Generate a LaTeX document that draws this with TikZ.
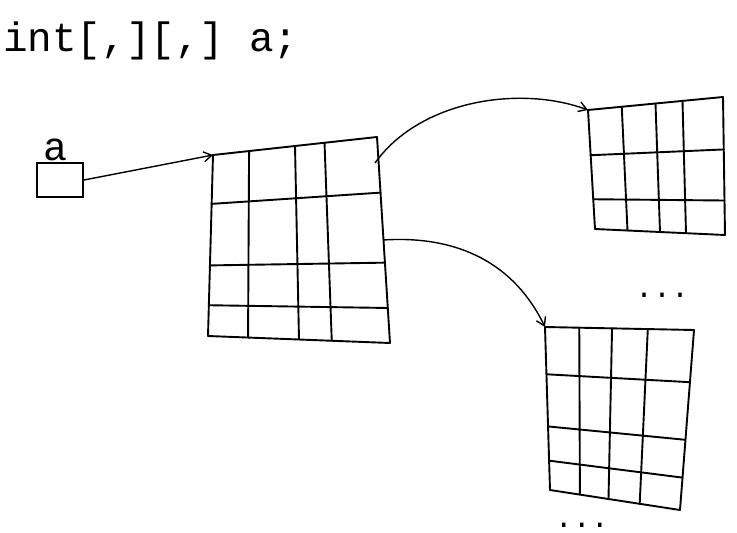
\documentclass[tikz,border=0pt]{standalone}
\usepackage{fontspec}
\setmonofont{Liberation Mono}
\usetikzlibrary{arrows.meta, calc}

\tikzset{
  gridline/.style={line width=1.9pt, line cap=round},
  link/.style={line width=1.4pt, -{Straight Barb[length=8pt,width=10pt]}},
  hand/.style={font=\ttfamily\fontsize{#1}{#1}\selectfont}
}

\begin{document}
\begin{tikzpicture}[x=1pt, y=-1pt]
    \useasboundingbox (0,0) rectangle (737,533);

    % declaration
    \node[hand=41, anchor=base west, inner sep=0pt] (decl) at (3,51) {int[,][,] a;};

    % variable a
    \node[draw, gridline, minimum width=46pt, minimum height=34pt, inner sep=0pt] (abox) at (60,180) {};
    \node[hand=40, anchor=base, inner sep=0pt] (alabel) at (56,160) {a};

    % corners of the outer array
    \coordinate (bigtl) at (213,155);
    \coordinate (bigtr) at (377,137);
    \coordinate (bigbr) at (390,343);
    \coordinate (bigbl) at (208,336);

    % corners of the inner arrays
    \coordinate (toptl) at (588,110);
    \coordinate (toptr) at (723,97);
    \coordinate (topbr) at (725,235);
    \coordinate (topbl) at (595,229);
    \coordinate (bottl) at (545,327);
    \coordinate (bottr) at (694,330);
    \coordinate (botbr) at (680,510);
    \coordinate (botbl) at (550,490);

    % outer array
    \foreach \f in {0,0.22,0.5,0.68,1}
        \draw[gridline] ($(bigtl)!\f!(bigtr)$) -- ($(bigbl)!\f!(bigbr)$);
    \foreach \f in {0,0.27,0.61,0.83,1}
        \draw[gridline] ($(bigtl)!\f!(bigbl)$) -- ($(bigtr)!\f!(bigbr)$);

    % first inner array
    \foreach \f in {0,0.25,0.5,0.7,1}
        \draw[gridline] ($(toptl)!\f!(toptr)$) -- ($(topbl)!\f!(topbr)$);
    \foreach \f in {0,0.38,0.75,1}
        \draw[gridline] ($(toptl)!\f!(topbl)$) -- ($(toptr)!\f!(topbr)$);

    % second inner array
    \foreach \f in {0,0.23,0.45,0.69,1}
        \draw[gridline] ($(bottl)!\f!(bottr)$) -- ($(botbl)!\f!(botbr)$);
    \foreach \f in {0,0.29,0.61,0.82,1}
        \draw[gridline] ($(bottl)!\f!(botbl)$) -- ($(bottr)!\f!(botbr)$);

    % references
    \coordinate (src1) at (375,163);
    \coordinate (src2) at (383,240);
    \draw[link] (abox.east) -- (bigtl);
    \draw[link] (src1) .. controls (420,100) and (520,85) .. (toptl);
    \draw[link] (src2) .. controls (460,235) and (515,265) .. (bottl);

    % more arrays
    \node[hand=30, anchor=base, inner sep=0pt] (moretop) at (662,297) {...};
    \node[hand=30, anchor=base, inner sep=0pt] (morebot) at (582,527) {...};
\end{tikzpicture}
\end{document}
